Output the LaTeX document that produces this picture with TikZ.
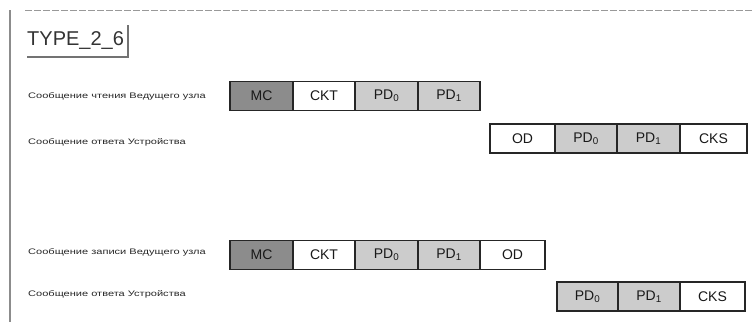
\documentclass[tikz,border=0pt]{standalone}
\usepackage{fontspec}
\setmainfont{Liberation Sans}
\begin{document}
\begin{tikzpicture}[x=1pt,y=-1pt,
  cell/.style={draw=black!85, line width=1.3pt, inner sep=0pt, minimum height=29pt, text=black!90, font=\fontsize{14}{16}\selectfont},
  mc/.style={cell, fill=black!45},
  pd/.style={cell, fill=black!20},
  wh/.style={cell, fill=white},
  lbl/.style={anchor=west, inner sep=0pt, text=black!85},
  frame/.style={draw=black!45, line width=1.6pt}]
\useasboundingbox (0,0) rectangle (755,322);
% frame
\coordinate (tl) at (25,10);
\coordinate (tr) at (752,10);
\coordinate (lt) at (10,10);
\coordinate (lb) at (10,322);
\draw[black!40, line width=1pt, dash pattern=on 7pt off 2pt] (tl) -- (tr);
\draw[frame] (lt) -- (lb);
% title
\node[anchor=west, inner sep=0pt, text=black!80, font=\fontsize{20}{22}\selectfont] (title) at (27,41) {TYPE\_2\_6};
\coordinate (bt) at (128,25);
\coordinate (bc) at (128,57);
\coordinate (bl) at (27,57);
\draw[black!55, line width=2.2pt] (bt) -- (bc) -- (bl);
% labels
\newcommand{\lab}[1]{\scalebox{1.38}[1]{\fontsize{8}{9}\selectfont #1}}
\newcommand{\pdx}[1]{PD\textsubscript{#1}}
\node[lbl] (l1) at (28,96) {\lab{Сообщение чтения Ведущего узла}};
\node[lbl] (l2) at (28,142) {\lab{Сообщение ответа Устройства}};
\node[lbl] (l3) at (28,252) {\lab{Сообщение записи Ведущего узла}};
\node[lbl] (l4) at (28,294) {\lab{Сообщение ответа Устройства}};
% row 1
\node[mc, minimum width=63pt] (r1mc) at (261.5,96) {MC};
\node[wh, minimum width=62pt] (r1ckt) at (324,96) {CKT};
\node[pd, minimum width=63pt] (r1pd0) at (386.5,96) {\pdx{0}};
\node[pd, minimum width=62pt] (r1pd1) at (449,96) {\pdx{1}};
% row 2
\node[wh, minimum width=65pt] (r2od) at (522.5,138.5) {OD};
\node[pd, minimum width=62pt] (r2pd0) at (586,138.5) {\pdx{0}};
\node[pd, minimum width=63pt] (r2pd1) at (648.5,138.5) {\pdx{1}};
\node[wh, minimum width=67pt] (r2cks) at (713.5,138.5) {CKS};
% row 3
\node[mc, minimum width=63pt] (r3mc) at (261.5,255) {MC};
\node[wh, minimum width=62pt] (r3ckt) at (324,255) {CKT};
\node[pd, minimum width=63pt] (r3pd0) at (386.5,255) {\pdx{0}};
\node[pd, minimum width=62pt] (r3pd1) at (449,255) {\pdx{1}};
\node[wh, minimum width=65pt] (r3od) at (512.5,255) {OD};
% row 4
\node[pd, minimum width=61pt] (r4pd0) at (587.5,296.5) {\pdx{0}};
\node[pd, minimum width=62pt] (r4pd1) at (649,296.5) {\pdx{1}};
\node[wh, minimum width=65pt] (r4cks) at (712.5,296.5) {CKS};
\end{tikzpicture}
\end{document}
